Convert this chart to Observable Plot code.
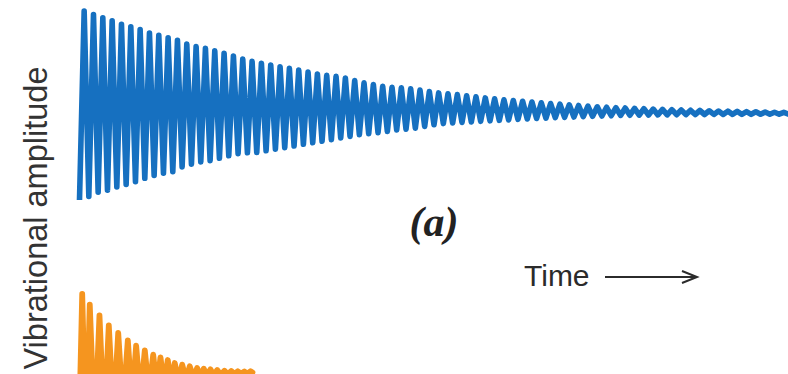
<!DOCTYPE html>
<html>
<head>
<meta charset="utf-8">
<script src="https://cdn.jsdelivr.net/npm/d3@7"></script>
<script src="https://cdn.jsdelivr.net/npm/@observablehq/plot@0.6"></script>
<style>
  html, body { margin: 0; padding: 0; background: #fff; overflow: hidden; }
  #wrap { position: relative; width: 788px; height: 374px; overflow: hidden; }
  #wrap svg { display: block; }
  .lbl { position: absolute; white-space: nowrap; color: #2b2b2b; }
</style>
</head>
<body>
<div id="wrap"></div>
<script>
// ---- Data (amplitude units, time in oscillation cycles) ----
// Panel (a): successive extremes of the slowly damped vibration
const blueBottoms = [
  -89.5, -86, -81.7, -79.7, -76.5, -73.9, -71.1, -67.8, -64.9, -62.7,
  -61.1, -56.5, -53.7, -51.5, -50.1, -47.8, -45.3, -43.2, -42.3, -42,
  -40.3, -38.7, -37.1, -35.5, -33.7, -32.2, -30.7, -29.2, -27.5, -25.9,
  -24.3, -23.2, -22.3, -21, -19.5, -18.6, -17.6, -15.9, -14.3, -13.1,
  -12.5, -11.9, -11.4, -10.8, -10.3, -9.8, -9.4, -8.9, -8.5, -8,
  -7.6, -7.2, -6.8, -6.5, -6.1, -5.8, -5.5, -5.2, -4.9, -4.7,
  -4.6, -4.5, -4.4, -4.3, -4.2, -4.1, -4.0, -4.0, -3.9, -3.9,
  -3.8, -3.8, -3.8, -3.8, -3.7, -3.7, -3.7
];
const blueTops = [
  99.5, 96, 92.7, 89.6, 86.2, 83.7, 80.9, 77.5, 75.1, 72.6,
  70.1, 66.5, 64, 62.1, 59.7, 57.3, 54.5, 51.4, 49.1, 47.3,
  45.5, 43.8, 42.2, 40.4, 38.4, 36.5, 35.1, 34.1, 32.5, 30,
  27.6, 26, 24.2, 23.2, 22.6, 21.7, 20.4, 19, 17.6, 16.8,
  15.9, 14.7, 13.7, 12.6, 11.7, 10.7, 10, 9.2, 8.5, 7.7,
  7, 6.3, 5.7, 5, 4.4, 3.7, 3.2, 2.9, 2.5, 2.1,
  1.8, 1.4, 1.1, 0.8, 0.5, 0.2, 0, -0.3, -0.5, -0.7,
  -0.9, -1.1, -1.3, -1.5, -1.7, -1.9, -2.0
];
// Panel (b): strongly damped vibration (alternating troughs and crests)
const orangeTimes = [
  -0.1, 0.29, 0.70, 1.10, 1.63, 2.14, 2.65, 3.14, 3.64, 4.15,
  4.66, 5.18, 5.63, 6.07, 6.54, 7.00, 7.45, 7.90, 8.29, 8.68,
  9.07, 9.46, 9.84, 10.21, 10.61, 11.01, 11.41, 11.82, 12.22, 12.61,
  12.97, 13.32, 13.69, 14.04, 14.40, 14.76, 15.15, 15.54, 15.90, 16.26,
  16.61, 16.97, 17.33, 17.68, 18.0, 18.33, 18.54
];
const orangeValues = [
  -80, 78.5, -72, 67.8, -62, 57.2, -52, 47.2, -43, 39.5,
  -36, 32.2, -29.5, 26.8, -24.5, 22.2, -20, 17.8, -16.5, 15.2,
  -13.8, 12.5, -11, 9.5, -8.6, 7.8, -7, 6.2, -5.3, 4.5,
  -4.2, 3.8, -3.5, 3.2, -2.8, 2.5, -2.2, 1.8, -1.7, 1.5,
  -1.4, 1.2, -1.1, 1.0, -1.1, 1.2, 0
];
const labels = { yLabel: "Vibrational amplitude", panel: "(a)", time: "Time" };

// ---- Build tables ----
const blue = [];
blueBottoms.forEach((b, k) => {
  blue.push({ t: k, v: b });
  if (k < blueTops.length) blue.push({ t: k + 0.5, v: blueTops[k] });
});
const orange = orangeTimes.map((t, i) => ({ t, v: orangeValues[i] }));

const BLUE = "#1670c0";
const ORANGE = "#f5951f";
const xScale = { domain: [0, 76], range: [79, 788] };

const plotA = Plot.plot({
  width: 788, height: 260,
  margin: 0,
  x: { ...xScale, axis: null },
  y: { domain: [-150, 110], range: [260, 0], axis: null },
  marks: [
    Plot.line(blue, { x: "t", y: "v", stroke: BLUE, strokeWidth: 5.6, strokeLinejoin: "round", strokeLinecap: "butt" })
  ]
});

const plotB = Plot.plot({
  width: 788, height: 114,
  margin: 0,
  x: { ...xScale, axis: null },
  y: { domain: [-2, 112], range: [114, 0], axis: null },
  marks: [
    Plot.line(orange, { x: "t", y: "v", stroke: ORANGE, strokeWidth: 5.8, strokeLinejoin: "round", strokeLinecap: "round" })
  ]
});
plotA.style.overflow = "visible";
plotB.style.overflow = "visible";

const wrap = document.getElementById("wrap");
wrap.appendChild(plotA);
wrap.appendChild(plotB);

function addLabel(text, css) {
  const d = document.createElement("div");
  d.className = "lbl";
  d.textContent = text;
  Object.assign(d.style, css);
  wrap.appendChild(d);
  return d;
}
addLabel(labels.yLabel, {
  left: "36px", top: "218px",
  transform: "translate(-50%, -50%) rotate(-90deg)",
  fontFamily: "'Liberation Sans', Arial, sans-serif",
  fontSize: "32.5px", lineHeight: "1", color: "#333"
});
addLabel(labels.panel, {
  left: "434px", top: "222px",
  transform: "translate(-50%, -50%)",
  fontFamily: "'Liberation Serif', 'Times New Roman', serif",
  fontWeight: "bold", fontStyle: "italic",
  fontSize: "42px", lineHeight: "1", color: "#222"
});
addLabel(labels.time, {
  left: "524px", top: "276px",
  transform: "translate(0, -50%)",
  fontFamily: "'Liberation Sans', Arial, sans-serif",
  fontSize: "30px", lineHeight: "1", color: "#2b2b2b"
});
// arrow after "Time"
const ns = "http://www.w3.org/2000/svg";
const arr = document.createElementNS(ns, "svg");
arr.setAttribute("width", "100");
arr.setAttribute("height", "20");
Object.assign(arr.style, { position: "absolute", left: "603px", top: "267px", overflow: "visible" });
arr.innerHTML = '<path d="M2,10 H93 M79,4 L94,10 L79,16" fill="none" stroke="#2b2b2b" stroke-width="2" stroke-linejoin="miter"/>';
wrap.appendChild(arr);
</script>
</body>
</html>
